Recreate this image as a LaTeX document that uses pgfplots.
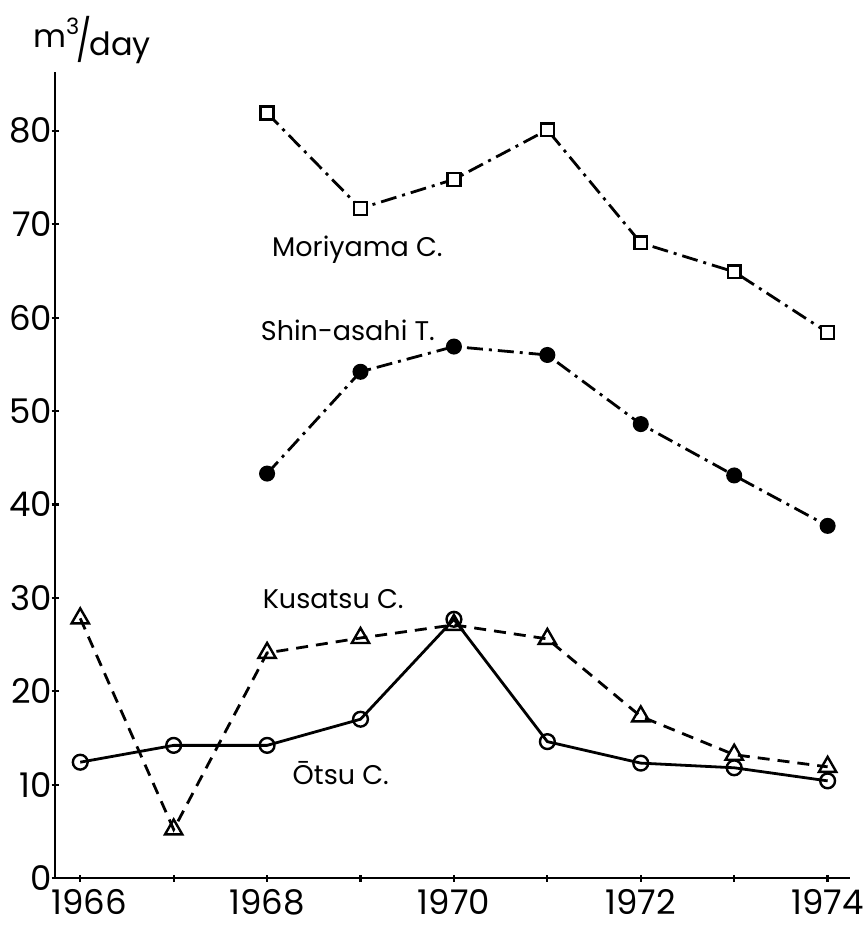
\documentclass[border=0pt]{standalone}
\usepackage{fontspec}
\setmainfont{Poppins}
\usepackage{pgfplots}
\pgfplotsset{compat=1.18}
\pgfdeclareplotmark{sqdot}{%
  \pgfpathrectangle{\pgfpoint{-\pgfplotmarksize}{-\pgfplotmarksize}}{\pgfpoint{2\pgfplotmarksize}{2\pgfplotmarksize}}%
  \pgfusepathqfillstroke
  \pgfpathcircle{\pgfpointorigin}{0.7pt}\pgfusepathqfill}
\begin{document}
\begin{tikzpicture}
\begin{axis}[
  width=397.5pt, height=403pt, scale only axis,
  xmin=1965.73, xmax=1974.24, ymin=0, ymax=86.3,
  axis x line=bottom, axis y line=left,
  every non boxed x axis/.append style={xtick align=inside, x axis line style={-}},
  every non boxed y axis/.append style={ytick align=inside, y axis line style={-}},
  axis line style={-, line width=1.4pt},
  xtick={1966,1967,...,1974},
  xticklabels={\hspace*{9pt}1966,,1968,,1970,,1972,,1974},
  ytick={0,10,...,80},
  major tick length=3.5pt,
  tick style={line width=1.1pt, black},
  tick label style={font=\fontsize{17}{20}\selectfont, inner sep=1pt},
  /pgf/number format/assume math mode=true,
  /pgf/number format/1000 sep={},
  yticklabel style={xshift=1.5pt},
  xticklabel style={yshift=-3pt},
  clip=false,
]
\path (rel axis cs:-0.0692,-0.0583) rectangle (rel axis cs:1.0189,1.0893);

% Moriyama C.
\addplot[black, line width=1.4pt, dash pattern=on 8pt off 3pt on 1.5pt off 3pt,
  mark=sqdot, mark size=3.2pt, mark options={solid, fill=white, line width=1.2pt}]
  coordinates {(1968,81.9) (1969,71.7) (1970,74.8) (1971,80.1) (1972,68.0) (1973,64.9) (1974,58.4)};

% Shin-asahi T.
\addplot[black, line width=1.4pt, dash pattern=on 8pt off 3pt on 1.5pt off 3pt,
  mark=*, mark size=3.3pt, mark options={solid, fill=black}]
  coordinates {(1968,43.3) (1969,54.2) (1970,56.9) (1971,56.0) (1972,48.6) (1973,43.1) (1974,37.7)};

% Kusatsu C.
\addplot[black, line width=1.4pt, dash pattern=on 6pt off 4pt,
  mark=triangle, mark size=5pt, mark options={solid, fill=white, line width=1.2pt}]
  coordinates {(1966,27.8) (1967,5.2) (1968,24.1) (1969,25.7) (1970,27.1) (1971,25.6) (1972,17.3) (1973,13.2) (1974,11.9)};

% Otsu C.
\addplot[black, line width=1.4pt,
  mark=o, mark size=3.7pt, mark options={solid, fill=white, line width=1.2pt}]
  coordinates {(1966,12.4) (1967,14.2) (1968,14.2) (1969,17.0) (1970,27.7) (1971,14.6) (1972,12.3) (1973,11.8) (1974,10.4)};

\node[anchor=base west, inner sep=0pt, font=\fontsize{13.5}{16}\selectfont] at (axis cs:1968.05,66.5) {Moriyama C.};
\node[anchor=base west, inner sep=0pt, font=\fontsize{13.5}{16}\selectfont] at (axis cs:1967.93,57.6) {Shin-asahi T.};
\node[anchor=base west, inner sep=0pt, font=\fontsize{13.5}{16}\selectfont] at (axis cs:1967.95,28.9) {Kusatsu C.};
\node[anchor=base west, inner sep=0pt, font=\fontsize{13.5}{16}\selectfont] at (axis cs:1968.27,10.0) {Ōtsu C.};
\node[inner sep=0pt, font=\fontsize{16}{19}\selectfont] at (rel axis cs:0.0465,1.040)
  {\raisebox{4pt}{m\textsuperscript{3}}\kern-2pt\scalebox{1}[1.3]{/}\kern-1pt day};
\end{axis}
\end{tikzpicture}
\end{document}
